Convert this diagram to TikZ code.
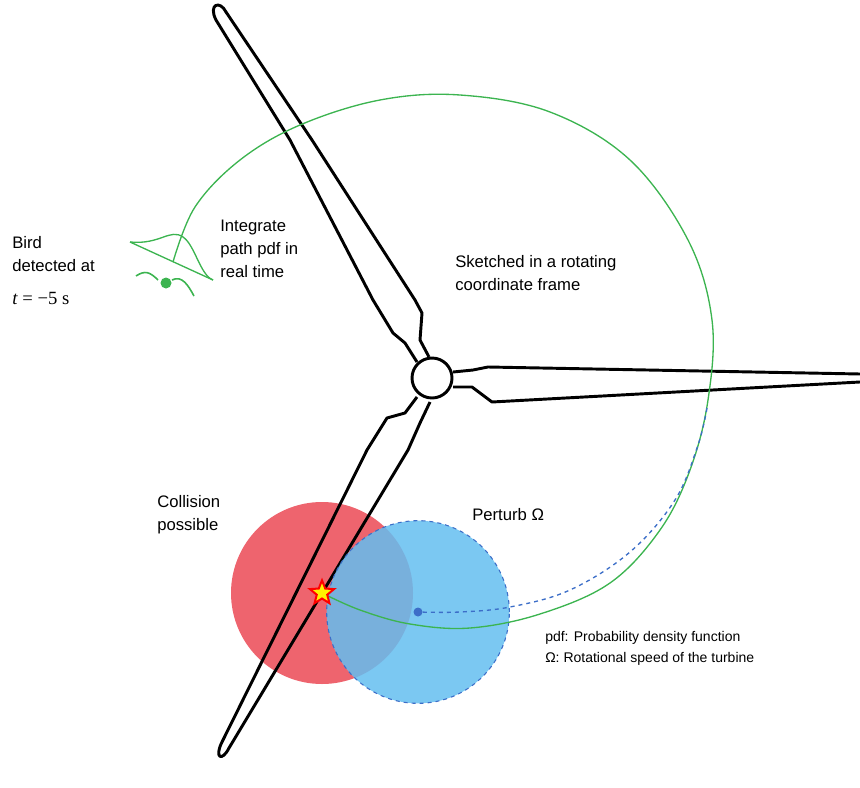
\documentclass[tikz,border=0pt]{standalone}
\usepackage{fontspec}
\setmainfont{Liberation Sans}
\newfontfamily\serifx{Liberation Serif}
\usetikzlibrary{shapes.geometric}
\definecolor{gr}{RGB}{60,180,80}
\definecolor{bl}{RGB}{60,110,200}
\definecolor{rd}{RGB}{238,100,110}
\definecolor{lb}{RGB}{100,190,240}
\begin{document}
\begin{tikzpicture}[x=0.75pt,y=-0.75pt,
  blade/.style={line width=2.2pt,black,line join=round},
  lbl/.style={font=\fontsize{12.5}{17}\selectfont,align=left,anchor=north west,inner sep=0},
  sm/.style={font=\fontsize{10.5}{16}\selectfont,align=left,anchor=north west,inner sep=0}]
\useasboundingbox (0,0) rectangle (860,788);
% red circle
\fill[rd] (322,593) circle (91);
% blades
\draw[blade] (417,362) -- (405,343) -- (393,333) -- (373,300) -- (290,140) -- (216,20) .. controls (208,4) and (220,0) .. (226,12) -- (312,140) -- (415,300) -- (422,313) -- (420,340) -- (429,357);
\draw[blade] (453,372) -- (473,370) -- (488,367) -- (860,374);
\draw[blade] (453,387) -- (472,387) -- (492,402) -- (860,382);
\draw[blade] (417,397) -- (405,413) -- (387,418) -- (367,450) -- (222,742) .. controls (214,758) and (222,762) .. (229,748) -- (408,450) -- (420,423) -- (430,402);
\node[circle,draw,line width=2.2pt,fill=white,minimum size=30pt,inner sep=0] (hub) at (432,378) {};
% blue circle
\node[circle,fill=lb,fill opacity=0.85,draw=bl,dashed,line width=0.8pt,minimum size=137pt,inner sep=0] (pert) at (418,612) {};
% green path
\coordinate (st) at (322,593);
\draw[gr,line width=1pt] plot[smooth,tension=0.6] coordinates {(173,262) (195,207) (240,160) (300,125) (380,100) (460,95) (550,112) (630,160) (688,240) (712,320) (708,400) (690,470) (660,530) (610,583) (540,614) (470,628) (410,624) (360,610) (322,593)};
% blue dashed
\draw[bl,dashed,line width=1pt] plot[smooth,tension=0.6] coordinates {(707,408) (698,445) (675,500) (630,552) (570,590) (510,607) (460,612) (418,612)};
\fill[bl] (418,612) circle (4.5);
% star
\node[star,star points=5,star point ratio=2.3,fill=yellow,draw=red,line width=1.5pt,minimum size=19pt,inner sep=0] (col) at (st) {};
% bird pdf
\draw[gr,line width=1pt] (130,242) -- (213,280);
\draw[gr,line width=1pt] (130,242) .. controls (160,245) and (170,228) .. (183,237) .. controls (195,245) and (200,275) .. (213,280);
\draw[gr,line width=1.2pt] (136,276) .. controls (145,270) and (150,272) .. (158,280) (172,280) .. controls (182,275) and (188,285) .. (194,296);
\fill[gr] (166,283) circle (5.5);
% texts
\node[lbl] (bd) at (12,236) {Bird\\detected at};
\node[lbl,font=\fontsize{14}{17}\serifx] (t) at (12,292) {\textit{t} = −5 s};
\node[lbl] (ip) at (220,220) {Integrate\\path pdf in\\real time};
\node[lbl] (sk) at (455,255) {Sketched in a rotating\\coordinate frame};
\node[lbl] (cp) at (157,495) {Collision\\possible};
\node[lbl] (po) at (472,508) {Perturb Ω};
\node[sm] (lg) at (545,631) {pdf: Probability density function\\Ω: Rotational speed of the turbine};
\end{tikzpicture}
\end{document}
